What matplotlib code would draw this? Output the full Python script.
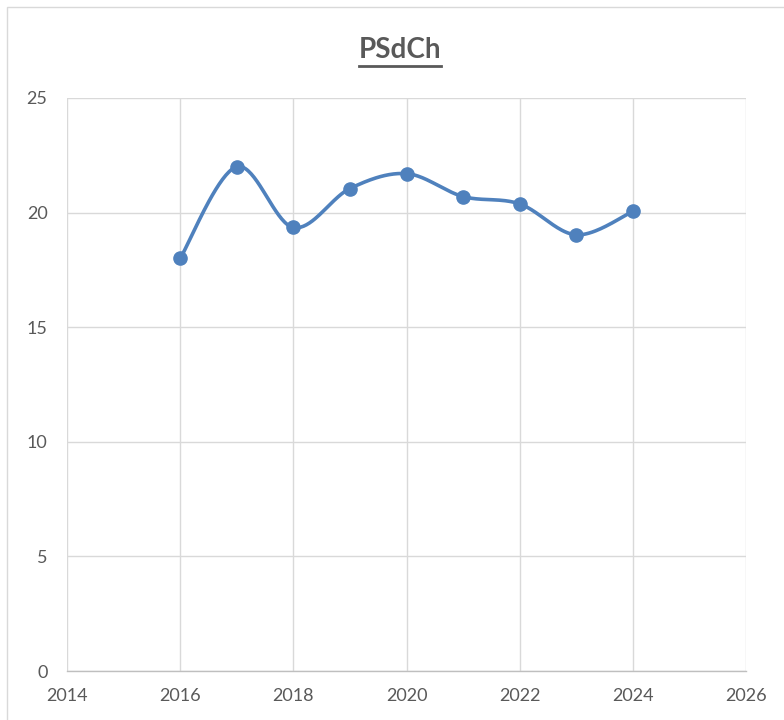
import numpy as np
import matplotlib
matplotlib.use("Agg")
import matplotlib.pyplot as plt
from matplotlib.patches import Rectangle
from matplotlib.lines import Line2D

years = [2016, 2017, 2018, 2019, 2020, 2021, 2022, 2023, 2024]
values = [18.0, 22.0, 19.35, 21.05, 21.7, 20.7, 20.38, 19.03, 20.05]
x_ticks = [2014, 2016, 2018, 2020, 2022, 2024, 2026]
y_ticks = [0, 5, 10, 15, 20, 25]
title = "PSdCh"

plt.rcParams['font.family'] = ['Lato', 'DejaVu Sans']

def smooth(xs, ys, n=40):
    xs = np.asarray(xs, float); ys = np.asarray(ys, float)
    P = np.column_stack([xs, ys])
    out = []
    for i in range(len(P) - 1):
        p0 = P[i - 1] if i > 0 else P[i]
        p1 = P[i]; p2 = P[i + 1]
        p3 = P[i + 2] if i + 2 < len(P) else P[i + 1]
        c1 = p1 + (p2 - p0) / 6.0
        c2 = p2 - (p3 - p1) / 6.0
        t = np.linspace(0, 1, n)[:, None]
        seg = ((1 - t) ** 3) * p1 + 3 * ((1 - t) ** 2) * t * c1 + 3 * (1 - t) * t ** 2 * c2 + t ** 3 * p2
        out.append(seg if i == 0 else seg[1:])
    s = np.vstack(out)
    return s[:, 0], s[:, 1]

fig = plt.figure(figsize=(7.84, 7.2), dpi=100)
fig.patches.append(Rectangle((7 / 784, -0.05), 1.2, 1 - 7 / 720 + 0.05, transform=fig.transFigure,
                             fill=False, edgecolor='#d9d9d9', linewidth=1.0))
ax = fig.add_axes([67 / 784, 1 - 671 / 720, (746 - 67) / 784, (671 - 98) / 720])

sx, sy = smooth(years, values)
ax.plot(sx, sy, color='#4f81bd', linewidth=2.6, solid_capstyle='round', zorder=3)
ax.plot(years, values, linestyle='none', marker='o', markersize=9.5, color='#4f81bd', zorder=4)

ax.set_xlim(2014, 2026)
ax.set_ylim(0, 25)
ax.set_xticks(x_ticks)
ax.set_yticks(y_ticks)
ax.set_xticklabels([str(v) for v in x_ticks])
ax.set_yticklabels([str(v) for v in y_ticks])
ax.grid(True, color='#d9d9d9', linewidth=1.0)
ax.set_axisbelow(True)
for s in ['left', 'right', 'top']:
    ax.spines[s].set_visible(False)
ax.spines['bottom'].set_color('#bfbfbf')
ax.spines['bottom'].set_linewidth(1.0)
ax.tick_params(axis='both', length=0, colors='#595959', labelsize=13)
ax.tick_params(axis='x', pad=12)
ax.tick_params(axis='y', pad=14)

t = fig.text(400 / 784, 1 - 50 / 720, title, ha='center', va='center', fontsize=20,
             fontweight='bold', color='#595959')
fig.canvas.draw()
bb = t.get_window_extent().transformed(fig.transFigure.inverted())
uy = bb.y0 - 3 / 720
fig.lines.append(Line2D([bb.x0, bb.x1], [uy, uy], transform=fig.transFigure,
                        color='#595959', linewidth=2.0))

fig.savefig("out.png", dpi=100)
